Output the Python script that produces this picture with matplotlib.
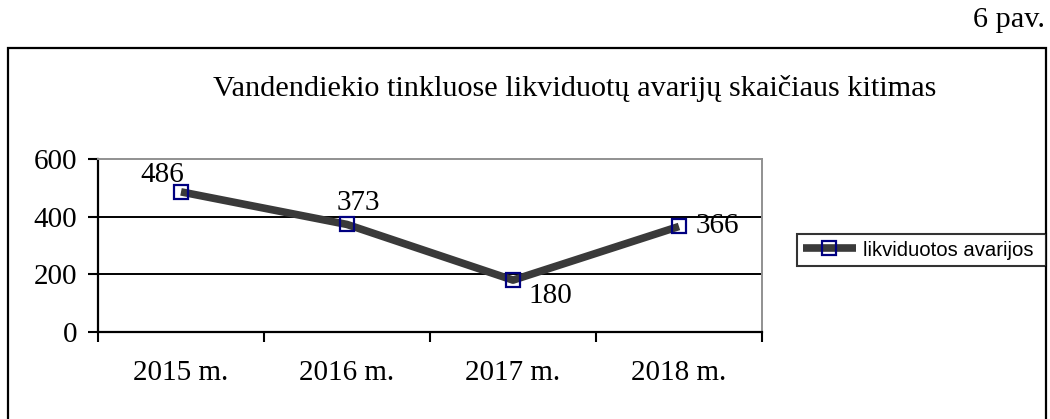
import matplotlib

matplotlib.use("Agg")

import matplotlib.pyplot as plt
from matplotlib.patches import Rectangle

years = ["2015 m.", "2016 m.", "2017 m.", "2018 m."]
accidents = [486, 373, 180, 366]
series_name = "likviduotos avarijos"
title = "Vandendiekio tinkluose likviduotų avarijų skaičiaus kitimas"
y_ticks = [0, 200, 400, 600]

# label offsets in points (dx, dy, ha, va), mimicking Excel label placement
label_pos = [(2, 3, "right", "bottom"), (8, 6, "center", "bottom"),
             (11, -2, "left", "top"), (12, 0, "left", "center")]

serif = "Liberation Serif"
W, H = 1050, 419
fig = plt.figure(figsize=(W / 100, H / 100), dpi=100)

# outer chart frame (bottom edge runs off the page)
fig.patches.append(Rectangle((8 / W, -0.1), (1046 - 8) / W, 1.1 - 48 / H,
                             transform=fig.transFigure, fill=False,
                             edgecolor="black", lw=1.6))

ax = fig.add_axes([98 / W, 87 / H, (762 - 98) / W, 173 / H])
x = list(range(len(years)))
line, = ax.plot(x, accidents, color="#3a3a3a", lw=5.5, marker="s", ms=10,
                mfc="none", mec="#000080", mew=1.6, solid_capstyle="butt")

for xi, v, (dx, dy, ha, va) in zip(x, accidents, label_pos):
    ax.annotate(str(v), (xi, v), xytext=(dx, dy), textcoords="offset points",
                ha=ha, va=va, fontsize=21, family=serif)

ax.set_xlim(-0.5, len(years) - 0.5)
ax.set_ylim(0, 600)
ax.set_yticks(y_ticks)
ax.set_yticklabels([str(t) for t in y_ticks], fontsize=21, family=serif)
ax.set_xticks([i - 0.5 for i in range(len(years) + 1)])
ax.set_xticklabels([])
ax.set_xticks(x, minor=True)
ax.set_xticklabels(years, minor=True, fontsize=21, family=serif)
ax.tick_params(axis="x", which="major", length=7, width=1.5, direction="out")
ax.tick_params(axis="x", which="minor", length=0, pad=20)
ax.tick_params(axis="y", length=7, width=1.5, direction="out", pad=8)

for y in [200, 400]:
    ax.axhline(y, color="black", lw=1.4, zorder=0)
for side in ["left", "bottom"]:
    ax.spines[side].set_linewidth(1.6)
    ax.spines[side].set_color("black")
for side in ["top", "right"]:
    ax.spines[side].set_linewidth(1.4)
    ax.spines[side].set_color("#909090")

fig.text(575 / W, 1 - 88 / H, title, ha="center", va="center",
         fontsize=21.8, family=serif)
fig.text(1045 / W, 1 - 20 / H, "6 pav.", ha="right", va="center",
         fontsize=21.8, family=serif)

leg = fig.legend([line], [series_name], loc="center left",
                 bbox_to_anchor=(797 / W, 1 - 268 / H, 249 / W, 36 / H),
                 bbox_transform=fig.transFigure, mode="expand",
                 prop={"family": "Liberation Sans", "size": 14.6},
                 frameon=True, fancybox=False, borderpad=0.3,
                 handlelength=2.6, handletextpad=0.35, borderaxespad=0)
leg.get_frame().set_edgecolor("black")
leg.get_frame().set_linewidth(1.5)

fig.savefig("out.png", dpi=100)
